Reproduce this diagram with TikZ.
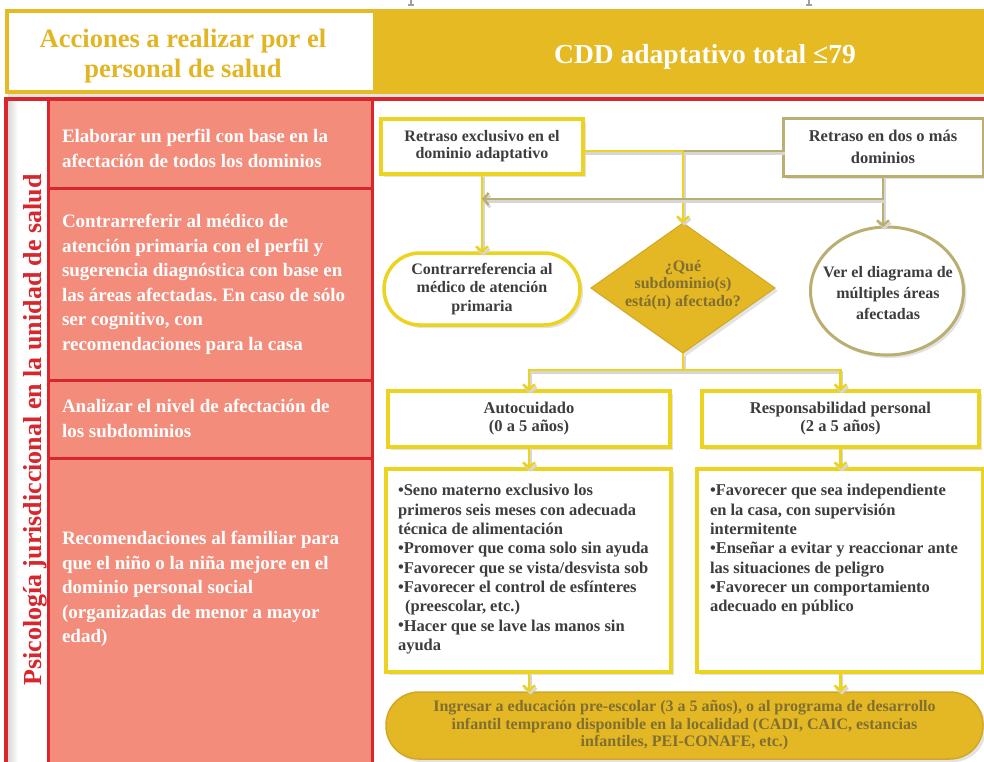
\documentclass[tikz,border=0pt]{standalone}
\usepackage{fontspec}
\setmainfont{Liberation Serif}
\usetikzlibrary{arrows.meta,shapes.geometric,shadows}

\definecolor{hdrgold}{HTML}{E6BA22}
\definecolor{hdrtxt}{HTML}{E2B524}
\definecolor{frred}{HTML}{D9252C}
\definecolor{cellpink}{HTML}{F38C7B}
\definecolor{flowyel}{HTML}{ECD320}
\definecolor{khaki}{HTML}{BAAE70}
\definecolor{boxtxt}{HTML}{3D3D3D}
\definecolor{qfill}{HTML}{E4B824}
\definecolor{qtxt}{HTML}{806F30}
\definecolor{gdark}{HTML}{D2A823}

\newcommand\myfs[2]{\fontsize{#1pt}{#2pt}\selectfont}
\newcommand\blt{\raisebox{0.02em}{•}}
\frenchspacing

\begin{document}
\begin{tikzpicture}[x=1pt,y=-1pt,
  every node/.style={inner sep=0pt,outer sep=0pt},
  boxshadow/.style={drop shadow={shadow xshift=3pt,shadow yshift=-3pt,opacity=0.22}},
  ybox/.style={rectangle,draw=flowyel,line width=3.5pt,fill=white,boxshadow},
  kbox/.style={rectangle,draw=khaki,line width=3pt,fill=white,boxshadow},
  flowtxt/.style={text=boxtxt,align=center},
  celltxt/.style={anchor=north west,text=white,align=left,font=\myfs{19}{24.5}\bfseries},
  listtxt/.style={anchor=north west,text=boxtxt,align=left,font=\myfs{16.5}{19.3}\bfseries},
  linkshadow/.style={preaction={draw=black!16,line width=2.5pt,
    transform canvas={shift={(1.5pt,-2.5pt)}}}},
  ylink/.style={draw=flowyel,line width=2.5pt,linkshadow},
  klink/.style={draw=khaki,line width=2.5pt,linkshadow},
  arrowhd/.style={-{Straight Barb[length=5pt,width=12pt]}},
]
\useasboundingbox (0,0) rectangle (984,761);

% clipped glyph feet from the line above the table
\draw[gray!75,line width=1.2pt] (411,0) -- (411,5) (408,5) -- (414,5)
  (809,0) -- (809,5) (806,5) -- (812,5);

% ---------- header band ----------
\fill[hdrgold,boxshadow] (5,9) rectangle (995,94);
\fill[white] (9,13) rectangle (373,90);
\node[font=\myfs{26.5}{30}\bfseries,text=hdrtxt,align=center] (hdrL) at (183,55.7)
  {Acciones a realizar por el\\personal de salud};
\node[font=\myfs{27.5}{30}\bfseries,text=white,anchor=base] (hdrR) at (705,63)
  {CDD adaptativo total ≤79};

% ---------- lower frame and action column ----------
\draw[frred,line width=3.5pt,fill=white,boxshadow] (6,99) rectangle (1000,800);
\shade[left color=black!15,right color=white] (8,101) rectangle (18,800);
\draw[frred,line width=3pt,fill=cellpink] (48,99) rectangle (372,800);
\draw[frred,line width=3pt] (48,188) -- (372,188) (48,380) -- (372,380) (48,458) -- (372,458);

\node[rotate=90,anchor=base,text=frred,font=\myfs{26}{28}\bfseries] (side) at (41,430)
  {Psicología jurisdiccional en la unidad de salud};

\node[celltxt] (cellA) at (62,129.5)
  {Elaborar un perfil con base en la\\afectación de todos los dominios};
\node[celltxt] (cellB) at (62,214.5)
  {Contrarreferir al médico de\\atención primaria con el perfil y\\sugerencia diagnóstica con base en\\las áreas afectadas. En caso de sólo\\ser cognitivo, con\\recomendaciones para la casa};
\node[celltxt] (cellC) at (62,399.5)
  {Analizar el nivel de afectación de\\los subdominios};
\node[celltxt] (cellD) at (62,531.5)
  {Recomendaciones al familiar para\\que el niño o la niña mejore en el\\dominio personal social\\(organizadas de menor a mayor\\edad)};

% ---------- flow chart ----------
\node[ybox,minimum width=202pt,minimum height=55pt,flowtxt,font=\myfs{16}{17}\bfseries]
  (b1) at (482,146.5) {Retraso exclusivo en el\\dominio adaptativo};
\node[kbox,minimum width=200pt,minimum height=58pt,flowtxt,font=\myfs{16.5}{22}\bfseries]
  (b2) at (883,147) {Retraso en dos o más\\dominios};

\node[ybox,rounded corners=36pt,minimum width=196pt,minimum height=72pt,flowtxt,
  font=\myfs{16}{18.5}\bfseries] (c1) at (482,289)
  {Contrarreferencia al\\médico de atención\\primaria};

\node[diamond,fill=qfill,draw=gdark,line width=1pt,minimum width=184pt,minimum height=130pt,
  boxshadow] (q) at (683,288) {};
\node[text=qtxt,align=center,font=\myfs{16}{17.5}\bfseries] (qtext) at (683,285)
  {¿Qué\\subdominio(s)\\está(n) afectado?};

\node[ellipse,draw=khaki,line width=3pt,fill=white,minimum width=153pt,minimum height=128pt,
  boxshadow] (e) at (887,291) {};
\node[flowtxt,font=\myfs{16}{21}\bfseries] (etext) at (888,293)
  {Ver el diagrama de\\múltiples áreas\\afectadas};

\node[ybox,minimum width=282pt,minimum height=56pt,flowtxt,font=\myfs{16.5}{18}\bfseries]
  (a1) at (529,419) {Autocuidado\\(0 a 5 años)};
\node[ybox,minimum width=277pt,minimum height=56pt,flowtxt,font=\myfs{16.5}{18}\bfseries]
  (a2) at (840.5,419) {Responsabilidad personal\\(2 a 5 años)};

\node[ybox,minimum width=285pt,minimum height=203pt] (l1) at (528.5,570.5) {};
\node[ybox,minimum width=286pt,minimum height=203pt] (l2) at (840,570.5) {};
\node[listtxt] (l1text) at (398,484.5)
  {\blt Seno materno exclusivo los\\primeros seis meses con adecuada\\técnica de alimentación\\
   \blt Promover que coma solo sin ayuda\\\blt Favorecer que se vista/desvista sob\\
   \blt Favorecer el control de esfínteres\\\hspace*{7pt}(preescolar, etc.)\\
   \blt Hacer que se lave las manos sin\\ayuda};
\node[listtxt] (l2text) at (710,484.5)
  {\blt Favorecer que sea independiente\\en la casa, con supervisión\\intermitente\\
   \blt Enseñar a evitar y reaccionar ante\\las situaciones de peligro\\
   \blt Favorecer un comportamiento\\adecuado en público};

\node[rectangle,rounded corners=33pt,fill=qfill,draw=gdark,line width=1.5pt,
  minimum width=597pt,minimum height=67pt,boxshadow,text=qtxt,align=center,
  font=\myfs{16}{17.5}\bfseries] (f) at (684.5,725.5)
  {Ingresar a educación pre-escolar (3 a 5 años), o al programa de desarrollo\\
   infantil temprano disponible en la localidad (CADI, CAIC, estancias\\
   infantiles, PEI-CONAFE, etc.)};

% ---------- connectors ----------
\coordinate (j1) at (683,151);
\coordinate (j2) at (883,199);
\coordinate (j3) at (b1.south |- j2);
\coordinate (j4) at (683,370);

\draw[ylink] (b1.east |- j1) -- (j1);
\draw[klink] (j1) -- (b2.west |- j1);
\draw[ylink,arrowhd] (j1) -- (q.north);
\draw[ylink,arrowhd] (b1.south) -- (c1.north);
\draw[klink,arrowhd] (b2.south) -- (b2.south |- e.north);
\draw[klink,arrowhd] (j2) -- (j3);

\draw[ylink] (q.south) -- (j4);
\draw[ylink,arrowhd] (j4) -| (a1.north);
\draw[ylink,arrowhd] (j4) -| (a2.north);
\draw[ylink,arrowhd] (a1.south) -- (l1.north -| a1.south);
\draw[ylink,arrowhd] (a2.south) -- (l2.north -| a2.south);
\draw[ylink,arrowhd] (l1.south -| a1.south) -- (f.north -| a1.south);
\draw[ylink,arrowhd] (l2.south -| a2.south) -- (f.north -| a2.south);
\end{tikzpicture}
\end{document}
